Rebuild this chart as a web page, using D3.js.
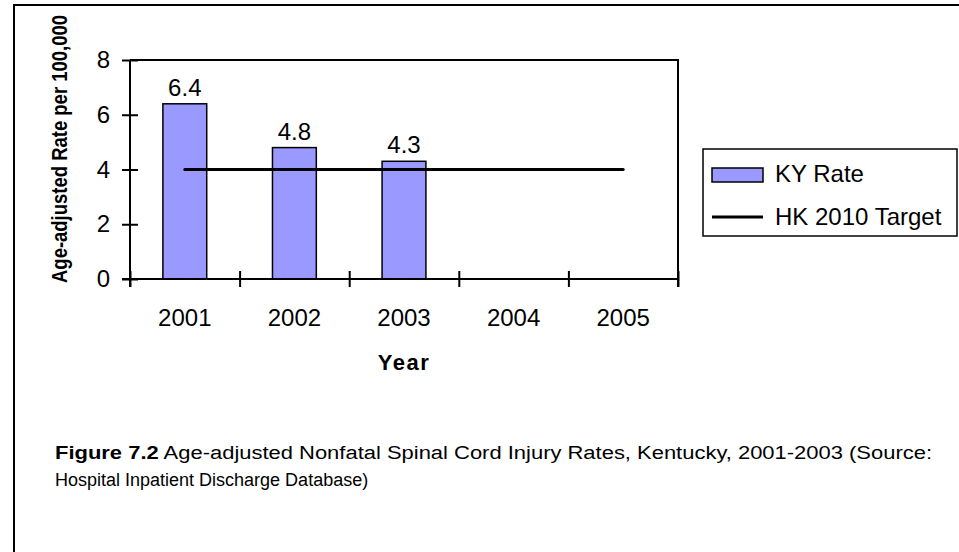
<!DOCTYPE html>
<html>
<head>
<meta charset="utf-8">
<script src="https://cdn.jsdelivr.net/npm/d3@7"></script>
<style>
  html, body { margin: 0; padding: 0; background: #fff; }
  svg { display: block; font-family: "Liberation Sans", Arial, sans-serif; }
</style>
</head>
<body>
<div class="chart"></div>
<script>
// chart data
const years = ['2001', '2002', '2003', '2004', '2005'];
const kyRate = [6.4, 4.8, 4.3, null, null];
const hkTarget = [4, 4, 4, 4, 4];
const yTicks = [0, 2, 4, 6, 8];
const legendLabels = ['KY Rate', 'HK 2010 Target'];

const W = 959, H = 552;
const plot = {left: 130, right: 678, top: 60, bottom: 279};

const svg = d3.select('.chart').append('svg')
    .attr('width', W)
    .attr('height', H);

// outer frame (cut off on the right and bottom)
svg.append('path')
    .attr('d', 'M14,' + H + 'V5H' + W)
    .attr('fill', 'none')
    .attr('stroke', '#000')
    .attr('stroke-width', 2);

const xScale = d3.scaleBand()
    .domain(years)
    .range([plot.left, plot.right])
    .paddingInner(0.6)
    .paddingOuter(0.3);

// boundaries between categories, for the tick marks
const xEdge = d3.scaleLinear()
    .domain([0, years.length])
    .range([plot.left, plot.right]);

const yScale = d3.scaleLinear()
    .domain([0, 8])
    .range([plot.bottom, plot.top]);

const cx = d => xScale(d) + xScale.bandwidth() / 2;

// plot border (top and right)
svg.append('path')
    .attr('d', 'M' + plot.left + ',' + plot.top + 'H' + plot.right + 'V' + (plot.bottom + 8))
    .attr('fill', 'none')
    .attr('stroke', '#000')
    .attr('stroke-width', 2);

// bars
const barData = years.map((y, i) => ({year: y, value: kyRate[i]})).filter(d => d.value != null);
svg.selectAll('.bar')
    .data(barData)
    .enter().append('rect')
    .attr('class', 'bar')
    .attr('x', d => xScale(d.year))
    .attr('y', d => yScale(d.value))
    .attr('width', xScale.bandwidth())
    .attr('height', d => yScale(0) - yScale(d.value))
    .attr('fill', '#9999ff')
    .attr('stroke', '#000')
    .attr('stroke-width', 1.5);

// bar labels
svg.selectAll('.barlabel')
    .data(barData)
    .enter().append('text')
    .attr('class', 'barlabel')
    .attr('x', d => cx(d.year))
    .attr('y', d => yScale(d.value) - 8)
    .attr('text-anchor', 'middle')
    .attr('font-size', 24)
    .text(d => d.value.toFixed(1));

// target line
const line = d3.line()
    .x(d => cx(d.year))
    .y(d => yScale(d.value));
svg.append('path')
    .datum(years.map((y, i) => ({year: y, value: hkTarget[i]})))
    .attr('d', line)
    .attr('fill', 'none')
    .attr('stroke', '#000')
    .attr('stroke-width', 3)
    .attr('stroke-linecap', 'round');

// y axis
const yAxis = svg.append('g')
    .attr('transform', 'translate(' + plot.left + ',0)')
    .call(d3.axisLeft(yScale).tickValues(yTicks).tickSize(8).tickPadding(12));
yAxis.select('.domain').attr('stroke-width', 2).attr('d', 'M0,' + plot.top + 'V' + (plot.bottom + 8));
yAxis.selectAll('.tick line').attr('x2', -8).attr('x1', 8).attr('stroke-width', 2);
yAxis.selectAll('.tick text')
    .attr('font-size', 24)
    .attr('font-family', '"Liberation Sans", Arial, sans-serif')
    .attr('fill', '#000');

// x axis: tick marks at the category edges
const xTickAxis = svg.append('g')
    .attr('transform', 'translate(0,' + plot.bottom + ')')
    .call(d3.axisBottom(xEdge).tickValues(d3.range(years.length + 1)).tickFormat('').tickSize(8));
xTickAxis.select('.domain').attr('stroke-width', 2).attr('d', 'M' + (plot.left - 8) + ',0H' + plot.right);
xTickAxis.selectAll('.tick line').attr('y1', -8).attr('y2', 8).attr('stroke-width', 2);

// x axis labels
const xLabelAxis = svg.append('g')
    .attr('transform', 'translate(0,' + plot.bottom + ')')
    .call(d3.axisBottom(xScale).tickSize(0));
xLabelAxis.select('.domain').remove();
xLabelAxis.selectAll('.tick text')
    .attr('y', 47)
    .attr('dy', 0)
    .attr('font-size', 24)
    .attr('font-family', '"Liberation Sans", Arial, sans-serif')
    .attr('fill', '#000');

// axis titles
svg.append('text')
    .attr('x', 404)
    .attr('y', 370)
    .attr('text-anchor', 'middle')
    .attr('font-size', 22)
    .attr('font-weight', 'bold')
    .attr('letter-spacing', 1.5)
    .text('Year');

svg.append('text')
    .attr('transform', 'translate(67,149) rotate(-90)')
    .attr('text-anchor', 'middle')
    .attr('font-size', 22)
    .attr('font-weight', 'bold')
    .attr('textLength', 268)
    .attr('lengthAdjust', 'spacingAndGlyphs')
    .text('Age-adjusted Rate per 100,000');

// legend
const legend = svg.append('g');
legend.append('rect')
    .attr('x', 703).attr('y', 149)
    .attr('width', 254).attr('height', 87)
    .attr('fill', '#fff')
    .attr('stroke', '#000')
    .attr('stroke-width', 1.5);
legend.append('rect')
    .attr('x', 712).attr('y', 168)
    .attr('width', 51).attr('height', 14)
    .attr('fill', '#9999ff')
    .attr('stroke', '#000')
    .attr('stroke-width', 1.5);
legend.append('line')
    .attr('x1', 712).attr('x2', 763)
    .attr('y1', 217).attr('y2', 217)
    .attr('stroke', '#000')
    .attr('stroke-width', 3);
legend.selectAll('.legtext')
    .data(legendLabels)
    .enter().append('text')
    .attr('class', 'legtext')
    .attr('x', 775)
    .attr('y', (d, i) => 182 + i * 43)
    .attr('font-size', 24)
    .text(d => d);

// caption (first line is stretched to the full width)
const caption = svg.append('text')
    .attr('x', 55)
    .attr('y', 459)
    .attr('font-size', 18)
    .attr('textLength', 877)
    .attr('lengthAdjust', 'spacingAndGlyphs');
caption.append('tspan')
    .attr('font-weight', 'bold')
    .text('Figure 7.2');
caption.append('tspan')
    .text(' Age-adjusted Nonfatal Spinal Cord Injury Rates, Kentucky, 2001-2003 (Source:');
svg.append('text')
    .attr('x', 55)
    .attr('y', 486)
    .attr('font-size', 18)
    .text('Hospital Inpatient Discharge Database)');
</script>
</body>
</html>
